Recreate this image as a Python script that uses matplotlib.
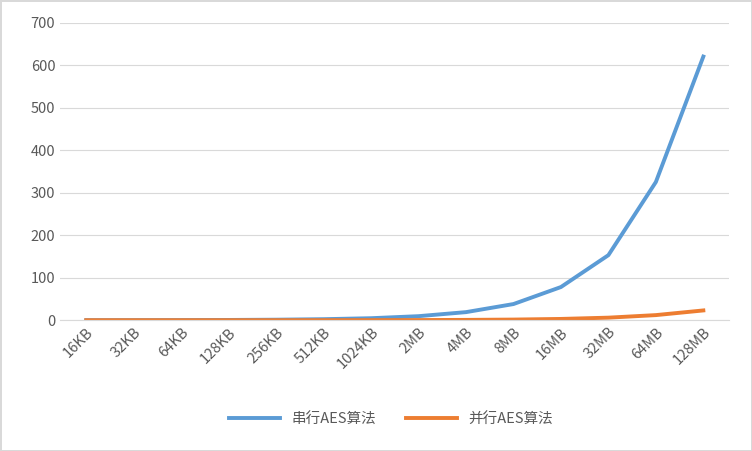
import matplotlib
matplotlib.use("Agg")
import matplotlib.pyplot as plt

categories = ["16KB","32KB","64KB","128KB","256KB","512KB","1024KB","2MB","4MB","8MB","16MB","32MB","64MB","128MB"]
serial = [0.08,0.15,0.3,0.6,1.2,2.4,4.7,9.5,19,38,78,153,325,620]
parallel = [0.003,0.006,0.012,0.025,0.05,0.1,0.2,0.38,0.75,1.5,3,6,12,23]

plt.rcParams["font.family"] = ["Noto Sans CJK SC"]
fig = plt.figure(figsize=(7.52,4.51), dpi=100)
fig.patch.set_edgecolor("#D9D9D9")
fig.patch.set_linewidth(1)
ax = fig.add_axes([0.08, 0.29, 0.89, 0.66])
x = range(len(categories))
ax.plot(x, serial, color="#5B9BD5", lw=2.8, label="串行AES算法")
ax.plot(x, parallel, color="#ED7D31", lw=2.8, label="并行AES算法")
ax.set_ylim(0, 700)
ax.set_yticks(range(0, 701, 100))
ax.set_xlim(-0.55, len(categories)-0.45)
ax.set_xticks(list(x))
ax.set_xticklabels(categories, rotation=45, ha="right", rotation_mode="anchor")
ax.grid(axis="y", color="#D9D9D9", lw=0.8)
ax.set_axisbelow(True)
for s in ["top","right","left"]:
    ax.spines[s].set_visible(False)
ax.spines["bottom"].set_color("#D9D9D9")
ax.tick_params(length=0, colors="#595959", labelsize=10.5)
fig.legend(loc="lower center", bbox_to_anchor=(0.52, 0.025), ncol=2, frameon=False,
           fontsize=10.5, labelcolor="#595959", handlelength=3.5, columnspacing=2)
fig.savefig("out.png", edgecolor=fig.get_edgecolor())
